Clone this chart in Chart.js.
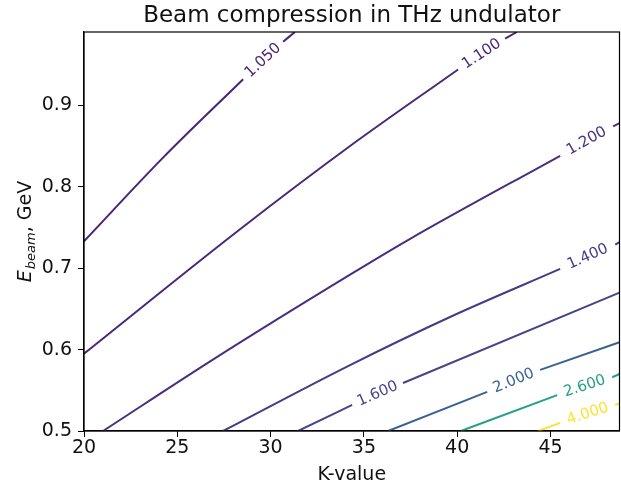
<!DOCTYPE html>
<html>
<head>
<meta charset="utf-8">
<script src="https://cdn.jsdelivr.net/npm/chart.js@4/dist/chart.umd.min.js"></script>
<style>
  html, body { margin: 0; padding: 0; background: #fff; }
  #wrap { width: 621px; height: 485px; }
</style>
</head>
<body>
<div id="wrap"><canvas id="c" width="621" height="485"></canvas></div>
<script>
// ---- data ----
const chartTitle = 'Beam compression in THz undulator';
const xTitle = 'K-value';
const xTicks = [20, 25, 30, 35, 40, 45];
const yTicks = [0.5, 0.6, 0.7, 0.8, 0.9];
const xRange = [20, 48.7];
const yRange = [0.5, 0.99];

const levelLabels = ['1.050', '1.100', '1.200', '1.400', '1.600', '2.000', '2.600', '4.000'];
const levelColors = ['#4a2476', '#4a287a', '#4a2e7f', '#483a86', '#45458a', '#3a6291', '#27a08a', '#fbe232'];

// contour lines: K values and E_beam values (null = gap for the inline label)
const k1050 = [20, 24.25, 28.53, null, 30.67, 31.3];
const e1050 = [0.733, 0.836, 0.932, null, 0.978, 0.99];
const k1100 = [20, 28.26, 34.26, 40.05, null, 42.57, 43.2];
const e1100 = [0.595, 0.746, 0.85, 0.944, null, 0.982, 0.99];
const k1200 = [21.02, 26.93, 34.26, 37.48, 45.52, null, 48.36, 48.7];
const e1200 = [0.5, 0.588, 0.692, 0.736, 0.838, null, 0.874, 0.878];
const k1400 = [27.45, 34.26, 39.62, 45.52, null, 48.47, 48.7];
const e1400 = [0.5, 0.581, 0.64, 0.699, null, 0.729, 0.732];
const k1600 = [31.47, 34.37, null, 37.1, 48.7];
const e1600 = [0.5, 0.532, null, 0.559, 0.67];
const k2000 = [36.3, 41.61, null, 44.45, 48.7];
const e2000 = [0.5, 0.548, null, 0.575, 0.609];
const k2600 = [40.2, 45.36, null, 48.31, 48.7];
const e2600 = [0.5, 0.544, null, 0.566, 0.57];
const k4000 = [44.35, 45.52, null, 48.47, 48.7];
const e4000 = [0.5, 0.51, null, 0.532, 0.534];

const contourK = [k1050, k1100, k1200, k1400, k1600, k2000, k2600, k4000];
const contourE = [e1050, e1100, e1200, e1400, e1600, e2000, e2600, e4000];

// ---- build datasets ----
const datasets = contourK.map((ks, i) => ({
  label: levelLabels[i],
  data: ks.map((k, j) => ({ x: k, y: contourE[i][j] })),
  showLine: true,
  spanGaps: false,
  cubicInterpolationMode: 'monotone',
  borderColor: levelColors[i],
  backgroundColor: levelColors[i],
  borderWidth: 2,
  pointRadius: 0,
  pointHoverRadius: 0,
  clip: 0
}));

const FONT = "'DejaVu Sans', sans-serif";

const contourLabelPlugin = {
  id: 'contourLabels',
  afterDatasetsDraw(chart) {
    const ctx = chart.ctx;
    const xs = chart.scales.x, ys = chart.scales.y;
    ctx.save();
    chart.data.datasets.forEach((ds, i) => {
      const d = ds.data;
      const gi = d.findIndex(p => p.y === null);
      if (gi < 1) return;
      const a = d[gi - 1], b = d[gi + 1];
      const ax = xs.getPixelForValue(a.x), ay = ys.getPixelForValue(a.y);
      const bx = xs.getPixelForValue(b.x), by = ys.getPixelForValue(b.y);
      const mx = (ax + bx) / 2, my = (ay + by) / 2;
      const ang = Math.atan2(by - ay, bx - ax);
      ctx.save();
      ctx.translate(mx, my);
      ctx.rotate(ang);
      ctx.font = '15px ' + FONT;
      ctx.fillStyle = ds.borderColor;
      ctx.textAlign = 'center';
      ctx.textBaseline = 'middle';
      ctx.fillText(ds.label, 0, 0);
      ctx.restore();
    });
    ctx.restore();
  }
};

const framePlugin = {
  id: 'frame',
  afterDraw(chart) {
    const ctx = chart.ctx;
    const a = chart.chartArea;
    ctx.save();
    ctx.strokeStyle = '#000';
    ctx.lineWidth = 1.2;
    ctx.strokeRect(a.left, a.top, a.right - a.left, a.bottom - a.top);

    // title
    ctx.fillStyle = '#111';
    ctx.font = '23px ' + FONT;
    ctx.textAlign = 'center';
    ctx.textBaseline = 'alphabetic';
    ctx.fillText(chartTitle, (a.left + a.right) / 2, 22);

    // x axis title
    ctx.font = '19px ' + FONT;
    ctx.fillText(xTitle, (a.left + a.right) / 2, 480);

    // y axis title: E_beam, GeV (rotated)
    const cy = (a.top + a.bottom) / 2;
    ctx.translate(31, cy);
    ctx.rotate(-Math.PI / 2);
    const mainF = '19px ' + FONT;
    const itF = 'italic 19px ' + FONT;
    const subF = 'italic 13px ' + FONT;
    ctx.font = itF; const wE = ctx.measureText('E').width;
    ctx.font = subF; const wS = ctx.measureText('beam').width;
    ctx.font = mainF; const wR = ctx.measureText(', GeV').width;
    const total = wE + wS + wR + 1;
    let x0 = -total / 2;
    ctx.textAlign = 'left';
    ctx.font = itF; ctx.fillText('E', x0, 0); x0 += wE + 1;
    ctx.font = subF; ctx.fillText('beam', x0, 4); x0 += wS;
    ctx.font = mainF; ctx.fillText(', GeV', x0, 0);
    ctx.restore();
  }
};

new Chart(document.getElementById('c'), {
  type: 'scatter',
  data: { datasets },
  options: {
    responsive: false,
    animation: false,
    devicePixelRatio: 1,
    events: [],
    layout: { padding: { top: 32, right: 1.5, left: 0, bottom: 0 } },
    plugins: { legend: { display: false }, title: { display: false }, tooltip: { enabled: false } },
    scales: {
      x: {
        type: 'linear',
        min: xRange[0], max: xRange[1],
        afterFit(s) { s.height = 54; },
        afterBuildTicks(s) { s.ticks = xTicks.map(v => ({ value: v })); },
        grid: { drawOnChartArea: false, drawTicks: true, tickLength: 6, color: '#000', lineWidth: 1 },
        border: { display: true, color: '#000', width: 1.2 },
        ticks: { font: { family: FONT, size: 19 }, color: '#111', padding: 0, maxRotation: 0, autoSkip: false,
                 callback: v => String(v) }
      },
      y: {
        type: 'linear',
        min: yRange[0], max: yRange[1],
        afterFit(s) { s.width = 84; },
        afterBuildTicks(s) { s.ticks = yTicks.map(v => ({ value: v })); },
        grid: { drawOnChartArea: false, drawTicks: true, tickLength: 6, color: '#000', lineWidth: 1 },
        border: { display: true, color: '#000', width: 1.2 },
        ticks: { font: { family: FONT, size: 19 }, color: '#111', padding: 6, autoSkip: false,
                 callback: v => Number(v).toFixed(1) }
      }
    }
  },
  plugins: [contourLabelPlugin, framePlugin]
});
</script>
</body>
</html>
